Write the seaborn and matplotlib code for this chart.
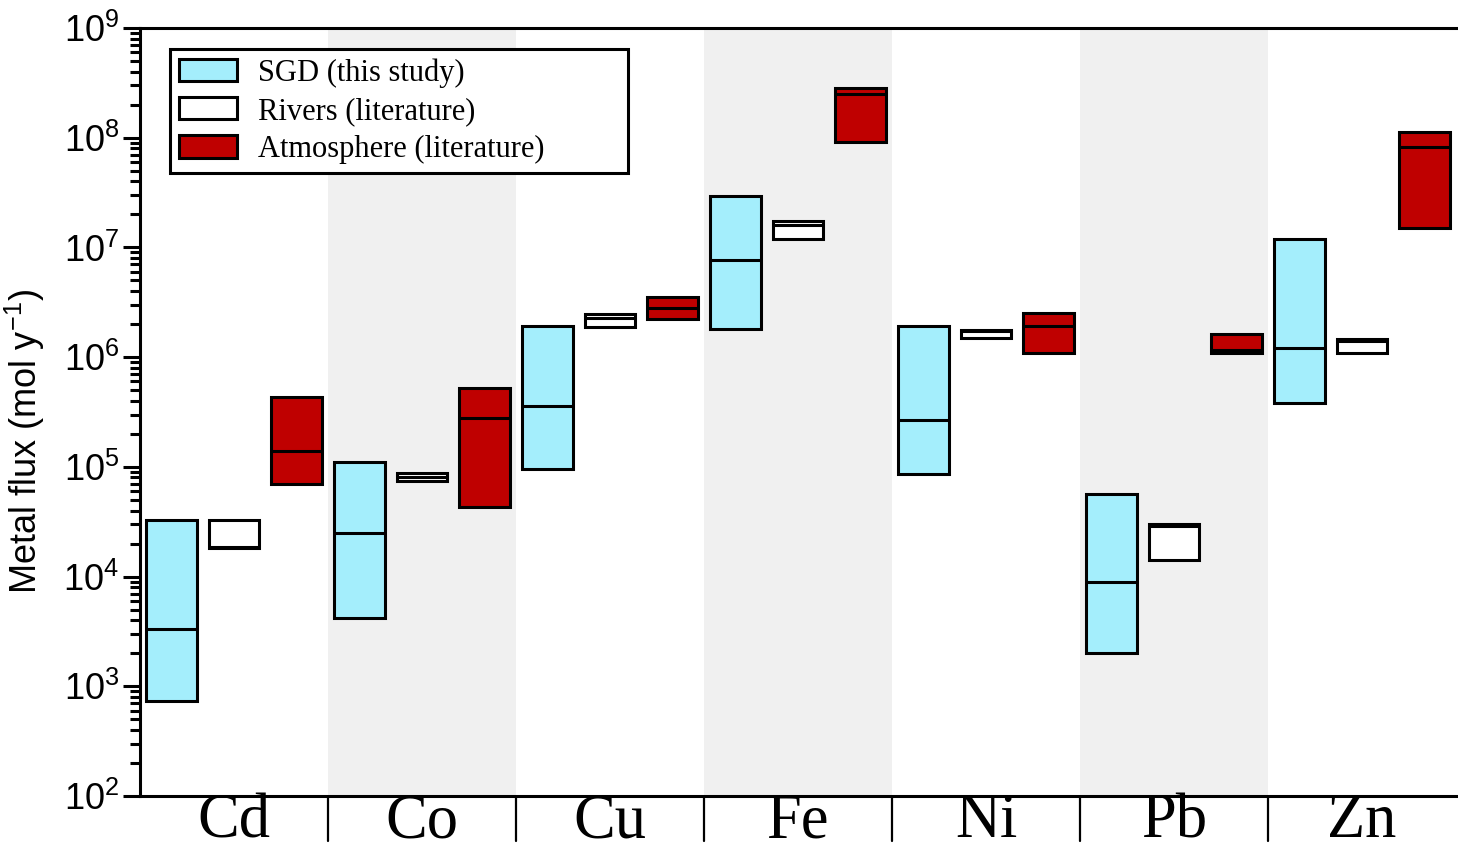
import pandas as pd
import numpy as np
import seaborn as sns
import matplotlib.pyplot as plt
from matplotlib.patches import Patch
from matplotlib.ticker import LogFormatterSciNotation, NullFormatter
from matplotlib.transforms import blended_transform_factory

# values (mol per year), low / middle line / high
metals = ['Cd', 'Co', 'Cu', 'Fe', 'Ni', 'Pb', 'Zn']
sources = ['SGD (this study)', 'Rivers (literature)', 'Atmosphere (literature)']

sgd_lo = [735, 4.2e3, 9.6e4, 1.80e6, 8.6e4, 2.0e3, 3.8e5]
sgd_med = [3.3e3, 2.5e4, 3.6e5, 7.75e6, 2.7e5, 8.9e3, 1.21e6]
sgd_hi = [3.3e4, 1.1e5, 1.92e6, 2.94e7, 1.92e6, 5.7e4, 1.2e7]

riv_lo = [1.82e4, 7.5e4, 1.88e6, 1.20e7, 1.50e6, 1.42e4, 1.10e6]
riv_med = [1.85e4, 8.0e4, 2.27e6, 1.59e7, 1.72e6, 2.9e4, 1.40e6]
riv_hi = [3.25e4, 8.7e4, 2.48e6, 1.73e7, 1.77e6, 3.0e4, 1.46e6]

atm_lo = [7.0e4, 4.3e4, 2.21e6, 9.2e7, 1.10e6, 1.10e6, 1.51e7]
atm_med = [1.4e5, 2.8e5, 2.79e6, 2.5e8, 1.92e6, 1.16e6, 8.2e7]
atm_hi = [4.3e5, 5.2e5, 3.57e6, 2.84e8, 2.51e6, 1.63e6, 1.13e8]

colors = ['#a4eefc', '#ffffff', '#bf0000']

# long table: lo, lo, mid, hi, hi -> quartiles land on lo/hi, median on mid
rows = []
for src, lo, med, hi in zip(sources, [sgd_lo, riv_lo, atm_lo],
                            [sgd_med, riv_med, atm_med], [sgd_hi, riv_hi, atm_hi]):
    for i, m in enumerate(metals):
        for v in [lo[i], lo[i], med[i], hi[i], hi[i]]:
            rows.append({'Metal': m, 'Source': src, 'Flux': v})
df = pd.DataFrame(rows)

sns.set_style('ticks')
plt.rcParams['font.family'] = ['Liberation Sans', 'DejaVu Sans']
plt.rcParams['mathtext.fontset'] = 'custom'
plt.rcParams['mathtext.rm'] = 'Liberation Sans'
plt.rcParams['mathtext.it'] = 'Liberation Sans:italic'
for k in ['text.color', 'axes.labelcolor', 'xtick.color', 'ytick.color', 'axes.edgecolor']:
    plt.rcParams[k] = 'black'

fig = plt.figure(figsize=(14.58, 8.52), dpi=100)
ax = fig.add_axes([140 / 1458, 56 / 852, 1316 / 1458, 768 / 852])

sns.boxplot(data=df, x='Metal', y='Flux', hue='Source', order=metals, hue_order=sources,
            palette=colors, saturation=1, width=1.0, gap=0.19, whis=0,
            showcaps=False, showfliers=False, linecolor='black', linewidth=2.2,
            medianprops=dict(color='black', linewidth=2.2),
            log_scale=True, legend=False, ax=ax)

# shaded bands behind every second metal
for i in [1, 3, 5]:
    ax.axvspan(i - 0.5, i + 0.5, color='#f0f0f0', lw=0, zorder=0)

ax.set_xlim(-0.5, 6.5)
ax.set_ylim(1e2, 1e9)
decades = [10.0 ** e for e in range(2, 10)]
ax.set_yticks(decades)
ax.set_yticks([d * s for d in decades[:-1] for s in range(2, 10)], minor=True)
ax.yaxis.set_major_formatter(LogFormatterSciNotation())
ax.yaxis.set_minor_formatter(NullFormatter())

ax.tick_params(axis='y', which='major', length=12, width=2.2, labelsize=26, pad=3)
ax.tick_params(axis='y', which='minor', length=7, width=2.2)
ax.tick_params(axis='x', length=0, labelsize=45, pad=-2)
for lbl in ax.get_xticklabels():
    lbl.set_fontfamily('Liberation Serif')

for s in ['left', 'top', 'bottom']:
    ax.spines[s].set_linewidth(2.2)
    ax.spines[s].set_color('black')
ax.spines['right'].set_visible(False)

ax.set_xlabel('')
ax.set_ylabel('Metal flux (mol y$^{-1}$)', fontsize=26)
ax.yaxis.set_label_coords(-0.0707, 0.461)

# small separators between the metal names
trans = blended_transform_factory(ax.transData, ax.transAxes)
for b in np.arange(0.5, 6, 1):
    ax.plot([b, b], [-0.003, -0.059], transform=trans, color='black', lw=1.6, clip_on=False)

handles = [Patch(facecolor=c, edgecolor='black', linewidth=2.2) for c in colors]
leg = ax.legend(handles, sources, loc='upper left', bbox_to_anchor=(0.0228, 0.9727, 0.348, 0.0),
                mode='expand', borderaxespad=0, fancybox=False, framealpha=1,
                edgecolor='black', handlelength=1.9, handleheight=0.75, handletextpad=0.69,
                labelspacing=0.3, borderpad=0.3, prop={'family': 'Liberation Serif', 'size': 22})
leg.get_frame().set_linewidth(2.2)

fig.savefig('out.png', dpi=100)
